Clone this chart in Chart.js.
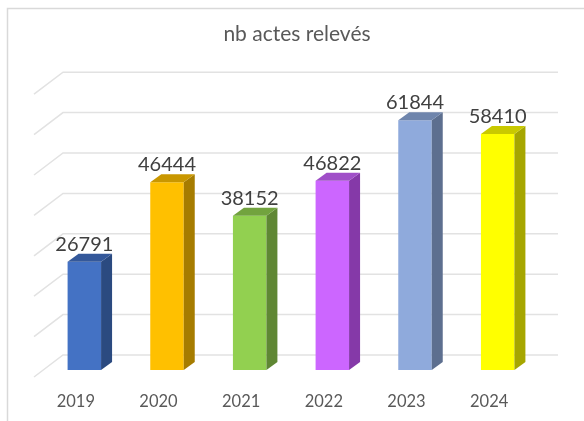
<!DOCTYPE html>
<html>
<head>
<meta charset="utf-8">
<script src="https://cdn.jsdelivr.net/npm/chart.js@4"></script>
<style>
html, body { margin: 0; padding: 0; background: #fff; }
#wrap { position: relative; width: 584px; height: 421px; }
</style>
</head>
<body>
<div id="wrap"><canvas id="chart" width="584" height="421"></canvas></div>
<script>
const years = ['2019', '2020', '2021', '2022', '2023', '2024'];
const actes = [26791, 46444, 38152, 46822, 61844, 58410];
const frontColors = ['#4472C4', '#FFC000', '#92D050', '#CC66FF', '#8FAADC', '#FFFF00'];
const sideColors = ['#2B4A80', '#A67C00', '#5F8734', '#8539A8', '#5D6F8F', '#A6A600'];
const topColors = ['#34589A', '#C99700', '#72A33E', '#A04FC8', '#6F85AC', '#C9C900'];

// depth of the fake 3d box, and of the floor behind the bars
const depthX = 11, depthY = 8;
const wallX = 63, wallRight = 558, wallY = 15, floorX = 34, floorY = 7;

const fake3d = {
    id: 'fake3d',
    beforeDatasetsDraw(chart) {
        const c = chart.ctx, y = chart.scales.y;
        c.save();
        c.strokeStyle = '#E2E2E2';
        c.lineWidth = 1.5;
        y.ticks.forEach(t => {
            const py = y.getPixelForValue(t.value);
            c.beginPath();
            c.moveTo(floorX, py + floorY);
            c.lineTo(wallX, py - wallY);
            c.lineTo(wallRight, py - wallY);
            c.stroke();
        });
        // border of the picture, only left and top are visible
        c.strokeStyle = '#D9D9D9';
        c.lineWidth = 1.5;
        c.beginPath();
        c.moveTo(7.5, 421);
        c.lineTo(7.5, 8.5);
        c.lineTo(584, 8.5);
        c.stroke();
        c.restore();
    },
    afterDatasetsDraw(chart) {
        const c = chart.ctx;
        const bars = chart.getDatasetMeta(0).data;
        c.save();
        bars.forEach((b, i) => {
            const r = b.x + b.width / 2, l = b.x - b.width / 2;
            c.fillStyle = sideColors[i];
            c.beginPath();
            c.moveTo(r, b.y);
            c.lineTo(r + depthX, b.y - depthY);
            c.lineTo(r + depthX, b.base - depthY);
            c.lineTo(r, b.base);
            c.closePath();
            c.fill();
            c.fillStyle = topColors[i];
            c.beginPath();
            c.moveTo(l, b.y);
            c.lineTo(l + depthX, b.y - depthY);
            c.lineTo(r + depthX, b.y - depthY);
            c.lineTo(r, b.y);
            c.closePath();
            c.fill();
            c.fillStyle = '#404040';
            c.font = '20px Lato';
            c.textAlign = 'center';
            c.textBaseline = 'alphabetic';
            c.fillText(actes[i], b.x, b.y - 11);
        });
        c.restore();
    }
};

new Chart(document.getElementById('chart'), {
    type: 'bar',
    data: {
        labels: years,
        datasets: [{
            label: 'nb actes relevés',
            data: actes,
            backgroundColor: frontColors,
            barPercentage: 0.405,
            categoryPercentage: 1
        }]
    },
    options: {
        responsive: false,
        animation: false,
        layout: { padding: { left: 10 } },
        plugins: {
            legend: { display: false },
            tooltip: { enabled: false },
            title: {
                display: true,
                text: 'nb actes relevés',
                color: '#595959',
                font: { family: 'Lato', size: 21, weight: 'normal' },
                padding: { top: 21.4, bottom: 40.6 }
            }
        },
        scales: {
            x: {
                grid: { display: false },
                border: { display: false },
                ticks: { color: '#595959', font: { family: 'Lato', size: 16.5 }, padding: 14, labelOffset: -8.5 },
                afterFit(s) { s.height = 51; }
            },
            y: {
                min: 0,
                max: 70000,
                afterFit(s) { s.width = 33; },
                grid: { display: false },
                border: { display: false },
                ticks: { display: false, stepSize: 10000 }
            },
            // empty axis, only keeps the space right of the bars
            y2: {
                position: 'right',
                afterFit(s) { s.width = 45; },
                grid: { display: false },
                border: { display: false },
                ticks: { display: false }
            }
        }
    },
    plugins: [fake3d]
});
</script>
</body>
</html>
